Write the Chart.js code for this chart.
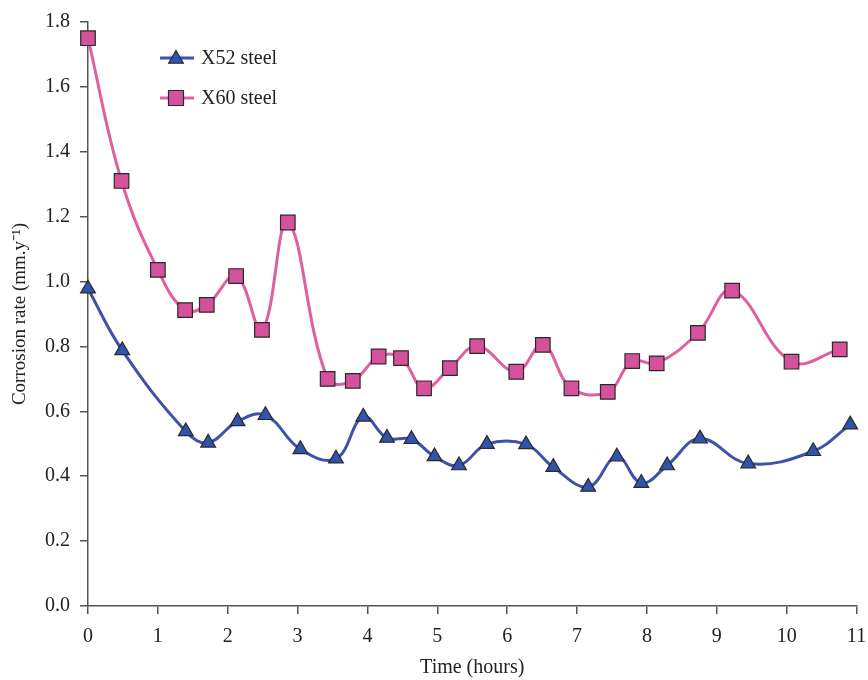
<!DOCTYPE html>
<html>
<head>
<meta charset="utf-8">
<script src="https://cdn.jsdelivr.net/npm/chart.js@4.4.1/dist/chart.umd.min.js"></script>
<style>
html,body{margin:0;padding:0;background:#fff;}
#wrap{width:868px;height:680px;}
</style>
</head>
<body>
<div id="wrap"><canvas id="c" width="868" height="680"></canvas></div>
<script>
const x52Hours = [0, 0.49, 1.40, 1.72, 2.14, 2.54, 3.04, 3.55, 3.94, 4.28, 4.63, 4.96, 5.31, 5.71, 6.27, 6.66, 7.16, 7.57, 7.92, 8.29, 8.76, 9.45, 10.38, 10.91];
const x52Rate  = [0.978, 0.788, 0.538, 0.503, 0.569, 0.588, 0.483, 0.454, 0.583, 0.518, 0.514, 0.461, 0.433, 0.499, 0.498, 0.428, 0.367, 0.460, 0.379, 0.433, 0.516, 0.439, 0.477, 0.559];
const x60Hours = [0, 0.48, 1.0, 1.39, 1.70, 2.12, 2.49, 2.86, 3.43, 3.79, 4.16, 4.48, 4.81, 5.18, 5.57, 6.13, 6.51, 6.92, 7.44, 7.79, 8.14, 8.73, 9.22, 10.07, 10.76];
const x60Rate  = [1.75, 1.31, 1.036, 0.912, 0.928, 1.017, 0.851, 1.182, 0.700, 0.694, 0.769, 0.764, 0.671, 0.733, 0.801, 0.722, 0.805, 0.671, 0.660, 0.755, 0.748, 0.842, 0.972, 0.753, 0.791];
const seriesNames = ['X52 steel', 'X60 steel'];
const xTitle = 'Time (hours)';
const yTitle = 'Corrosion rate (mm.y\u207B\u00B9)';

const BLUE_LINE = '#3f51aa', BLUE_FILL = '#3152ae';
const PINK_LINE = '#e0609f', PINK_FILL = '#d6519c';
const AXIS = '#555555';
const FONT = "'Liberation Serif', 'Times New Roman', serif";

const toPts = (xs, ys) => xs.map((x, i) => ({x: x, y: ys[i]}));

const legendPlugin = {
  id: 'customLegend',
  afterDraw(chart) {
    const ctx = chart.ctx;
    const items = [
      {name: seriesNames[0], line: BLUE_LINE, fill: BLUE_FILL, shape: 'tri', y: 58},
      {name: seriesNames[1], line: PINK_LINE, fill: PINK_FILL, shape: 'rect', y: 98}
    ];
    ctx.save();
    items.forEach(it => {
      ctx.strokeStyle = it.line; ctx.lineWidth = 3;
      ctx.beginPath(); ctx.moveTo(160, it.y); ctx.lineTo(194, it.y); ctx.stroke();
      ctx.fillStyle = it.fill; ctx.strokeStyle = '#2a2a2a'; ctx.lineWidth = 1.2;
      ctx.beginPath();
      if (it.shape === 'tri') {
        const r = 8.5, cx = 176, cy = it.y + 1;
        ctx.moveTo(cx, cy - r);
        ctx.lineTo(cx + r * 0.866, cy + r * 0.5);
        ctx.lineTo(cx - r * 0.866, cy + r * 0.5);
        ctx.closePath();
      } else {
        ctx.rect(176 - 7.5, it.y - 7.5, 15, 15);
      }
      ctx.fill(); ctx.stroke();
      ctx.fillStyle = '#222'; ctx.font = '20px ' + FONT;
      ctx.textBaseline = 'middle'; ctx.textAlign = 'left';
      ctx.fillText(it.name, 201, it.y + 1);
    });
    ctx.restore();
  }
};

new Chart(document.getElementById('c'), {
  type: 'line',
  data: {
    datasets: [
      {
        label: seriesNames[0],
        data: toPts(x52Hours, x52Rate),
        borderColor: BLUE_LINE, borderWidth: 3,
        backgroundColor: BLUE_FILL,
        pointStyle: 'triangle', pointRadius: 8.5, pointBorderColor: '#2a2a2a', pointBorderWidth: 1.2,
        pointBackgroundColor: BLUE_FILL,
        tension: 0.4, fill: false, clip: false
      },
      {
        label: seriesNames[1],
        data: toPts(x60Hours, x60Rate),
        borderColor: PINK_LINE, borderWidth: 3,
        backgroundColor: PINK_FILL,
        pointStyle: 'rect', pointRadius: 10.3, pointBorderColor: '#2a2a2a', pointBorderWidth: 1.2,
        pointBackgroundColor: PINK_FILL,
        tension: 0.4, fill: false, clip: false
      }
    ]
  },
  options: {
    responsive: false,
    animation: false,
    layout: {padding: {top: 22, right: 10, left: 0, bottom: 0}},
    plugins: {legend: {display: false}, tooltip: {enabled: false}},
    scales: {
      x: {
        type: 'linear', min: 0, max: 11,
        ticks: {stepSize: 1, color: '#222', font: {family: FONT, size: 20}, padding: 11, maxRotation: 0, autoSkip: false},
        grid: {display: true, drawOnChartArea: false, drawTicks: true, tickLength: 8, color: AXIS, lineWidth: 1.5},
        border: {display: true, color: AXIS, width: 1.5},
        title: {display: true, text: xTitle, color: '#222', font: {family: FONT, size: 20}, padding: {top: 0, bottom: 0}},
        afterFit(s) { s.height = 74; s.paddingLeft = 0; s.paddingRight = 0; }
      },
      y: {
        min: 0, max: 1.8,
        ticks: {stepSize: 0.2, color: '#222', font: {family: FONT, size: 20}, padding: 10,
          callback: v => Number(v).toFixed(1)},
        grid: {display: true, drawOnChartArea: false, drawTicks: true, tickLength: 8, color: AXIS, lineWidth: 1.5},
        border: {display: true, color: AXIS, width: 1.5},
        title: {display: true, text: yTitle, color: '#222', font: {family: FONT, size: 19}, padding: {top: 9, bottom: 0}},
        afterFit(s) { s.width = 88; s.paddingTop = 0; s.paddingBottom = 0; }
      }
    }
  },
  plugins: [legendPlugin]
});
</script>
</body>
</html>
